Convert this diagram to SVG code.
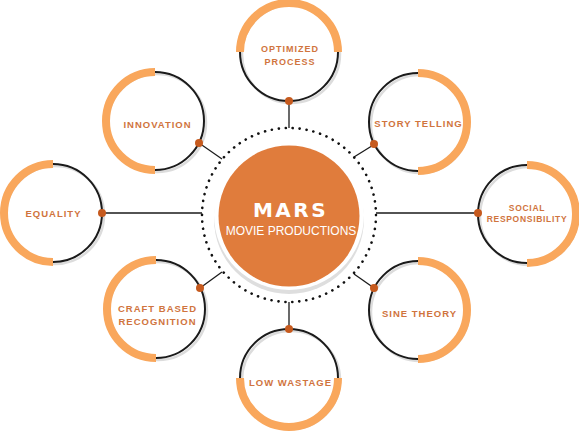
<svg xmlns="http://www.w3.org/2000/svg" xmlns:xlink="http://www.w3.org/1999/xlink" width="579" height="431" viewBox="0 0 579 431">
<style>
.ring{fill:none;stroke:#1a1a1a;stroke-width:2}
.shadow{fill:none;stroke:#dcdcdc;stroke-width:2.5}
.band{fill:none;stroke:#F9A75C;stroke-width:8}
.dot{fill:#C65A1E}
.lbl{font-family:"Liberation Sans",Arial,sans-serif;font-weight:bold;font-size:9.5px;letter-spacing:1px;fill:#D0743E;text-anchor:middle}
.conn{stroke:#1a1a1a;stroke-width:1.3;fill:none}
</style>
<defs>
<path id="half" d="M -49 0 A 49 49 0 0 1 49 0"/>
</defs>
<rect width="579" height="431" fill="#ffffff"/>

<g id="connectors">
<line class="conn" x1="289" y1="101" x2="289" y2="128"/>
<line class="conn" x1="289" y1="302" x2="289" y2="329"/>
<line class="conn" x1="102" y1="213" x2="202" y2="213"/>
<line class="conn" x1="376" y1="213" x2="478" y2="213"/>
<line class="conn" x1="199" y1="143" x2="222" y2="159"/>
<line class="conn" x1="375" y1="144" x2="354" y2="157"/>
<line class="conn" x1="200" y1="288" x2="222" y2="272"/>
<line class="conn" x1="374" y1="288" x2="354" y2="274"/>
</g>

<g id="center">
<circle cx="289" cy="215" r="87" fill="none" stroke="#111" stroke-width="2.6" stroke-dasharray="0.1 6.9" stroke-linecap="round"/>
<circle cx="289" cy="219" r="75" fill="#dedede"/>
<circle cx="289" cy="215" r="75" fill="#ffffff"/>
<circle cx="289" cy="216" r="70.5" fill="#E07C3C"/>
<text x="290.5" y="217" font-family="'DejaVu Sans',Verdana,sans-serif" font-weight="bold" font-size="20" letter-spacing="2.5" fill="#ffffff" text-anchor="middle">MARS</text>
<text x="291" y="235" font-family="'Liberation Sans',Arial,sans-serif" font-size="12" fill="#ffffff" text-anchor="middle">MOVIE PRODUCTIONS</text>
</g>

<g id="optimized-process" transform="translate(289,52)">
<circle class="shadow" cx="2" cy="2" r="49"/>
<circle class="ring" r="49"/>
<use href="#half" xlink:href="#half" class="band"/>
<circle class="dot" cx="0" cy="49" r="4"/>
<text class="lbl" x="1" y="0" style="font-size:9px">OPTIMIZED</text>
<text class="lbl" x="1" y="13" style="font-size:9px">PROCESS</text>
</g>

<g id="innovation" transform="translate(155,121)">
<circle class="shadow" cx="2" cy="2" r="49"/>
<circle class="ring" r="49"/>
<use href="#half" xlink:href="#half" class="band" transform="rotate(-90)"/>
<circle class="dot" cx="44" cy="22" r="4"/>
<text class="lbl" x="2.5" y="7">INNOVATION</text>
</g>

<g id="story-telling" transform="translate(418,122)">
<circle class="shadow" cx="2" cy="2" r="49"/>
<circle class="ring" r="49"/>
<use href="#half" xlink:href="#half" class="band" transform="rotate(90)"/>
<circle class="dot" cx="-44" cy="22" r="4"/>
<text class="lbl" x="0.5" y="5">STORY TELLING</text>
</g>

<g id="equality" transform="translate(53,213)">
<circle class="shadow" cx="2" cy="2" r="49"/>
<circle class="ring" r="49"/>
<use href="#half" xlink:href="#half" class="band" transform="rotate(-90)"/>
<circle class="dot" cx="49" cy="0" r="4"/>
<text class="lbl" x="0.5" y="3.5">EQUALITY</text>
</g>

<g id="social-responsibility" transform="translate(527,214)">
<circle class="shadow" cx="2" cy="2" r="49"/>
<circle class="ring" r="49"/>
<use href="#half" xlink:href="#half" class="band" transform="rotate(90)"/>
<circle class="dot" cx="-49" cy="-1" r="4"/>
<text class="lbl" x="0" y="-3.5" style="font-size:8.5px;letter-spacing:0.7px">SOCIAL</text>
<text class="lbl" x="0" y="8" style="font-size:8.5px;letter-spacing:0.7px">RESPONSIBILITY</text>
</g>

<g id="craft-based-recognition" transform="translate(156,309)">
<circle class="shadow" cx="2" cy="2" r="49"/>
<circle class="ring" r="49"/>
<use href="#half" xlink:href="#half" class="band" transform="rotate(-90)"/>
<circle class="dot" cx="44" cy="-21" r="4"/>
<text class="lbl" x="1.5" y="2.5">CRAFT BASED</text>
<text class="lbl" x="1.5" y="16">RECOGNITION</text>
</g>

<g id="sine-theory" transform="translate(418,310)">
<circle class="shadow" cx="2" cy="2" r="49"/>
<circle class="ring" r="49"/>
<use href="#half" xlink:href="#half" class="band" transform="rotate(90)"/>
<circle class="dot" cx="-44" cy="-22" r="4"/>
<text class="lbl" x="1.5" y="7">SINE THEORY</text>
</g>

<g id="low-wastage" transform="translate(289,378)">
<circle class="shadow" cx="2" cy="2" r="49"/>
<circle class="ring" r="49"/>
<use href="#half" xlink:href="#half" class="band" transform="rotate(180)"/>
<circle class="dot" cx="0" cy="-49" r="4"/>
<text class="lbl" x="1.5" y="8">LOW WASTAGE</text>
</g>
</svg>
